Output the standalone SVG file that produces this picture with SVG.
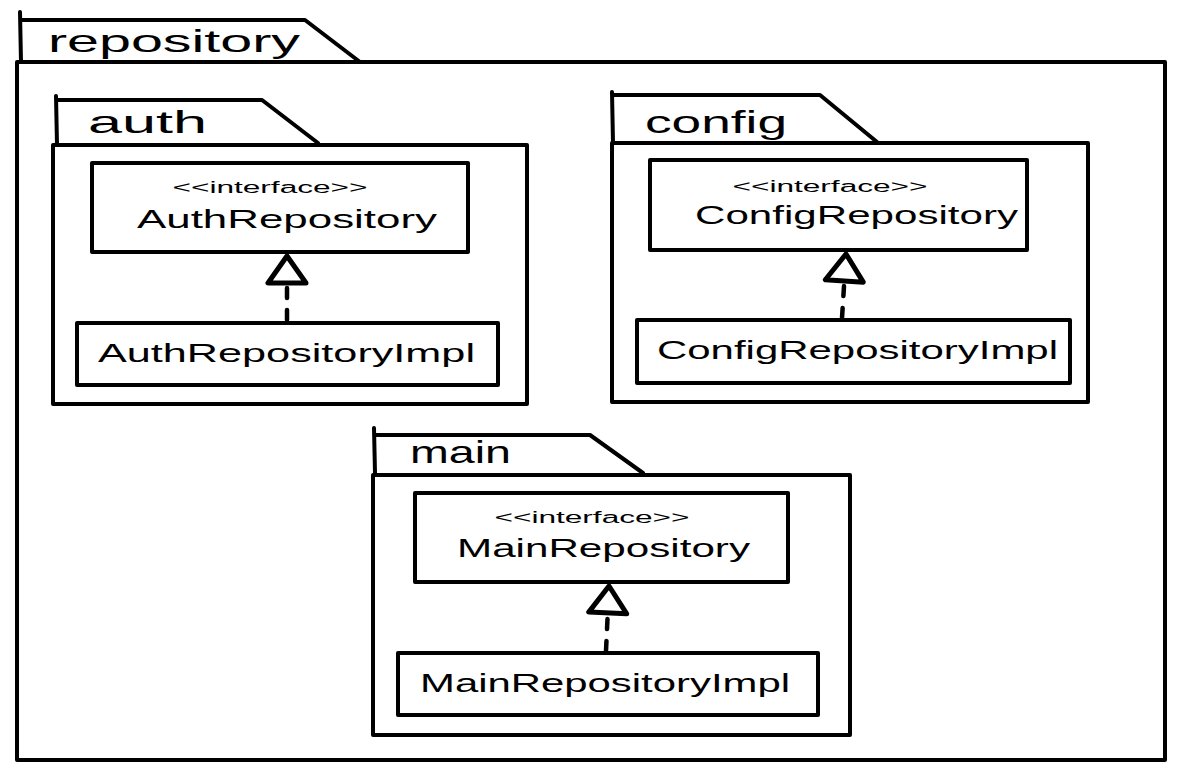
<svg xmlns="http://www.w3.org/2000/svg" width="1177" height="770" viewBox="0 0 1177 770">
<defs>
<style>
.ln{fill:none;stroke:#000;stroke-width:4;stroke-linecap:round;stroke-linejoin:round}
.box{fill:#fff;stroke:#000;stroke-width:4;stroke-linejoin:round}
.pk{font-family:"Liberation Sans",Arial,sans-serif;font-size:32px;fill:#000}
.st{font-family:"Liberation Sans",Arial,sans-serif;font-size:16px;fill:#000;text-anchor:middle}
.nm{font-family:"Liberation Sans",Arial,sans-serif;font-size:26px;fill:#000}
.dash{fill:none;stroke:#000;stroke-width:4.5;stroke-dasharray:10 12;stroke-linecap:round}
</style>
<marker id="real" viewBox="0 0 34 44" refX="31" refY="22" markerWidth="34" markerHeight="44" markerUnits="userSpaceOnUse" orient="auto">
<path d="M31 22 L4 3 L4 41 Z" fill="#fff" stroke="#000" stroke-width="5" stroke-linejoin="round"/>
</marker>
</defs>
<rect width="1177" height="770" fill="#fff"/>
<g id="pkg-repository">
<path class="ln" d="M20 12 L21 62 M22 20 L305 20 L360 62"/>
<rect class="box" x="17" y="62" width="1148" height="698" fill="none"/>
<text class="pk" x="48" y="52" textLength="252" lengthAdjust="spacingAndGlyphs">repository</text>
</g>
<g id="pkg-auth">
<path class="ln" d="M56 96 L57 145 M57 100 L262 100 L318 143"/>
<rect class="box" x="53" y="145" width="474" height="259"/>
<text class="pk" x="88" y="133" textLength="119" lengthAdjust="spacingAndGlyphs">auth</text>
</g>
<g id="pkg-config">
<path class="ln" d="M612 92 L613 143 M612 95 L820 95 L877 142"/>
<rect class="box" x="612" y="143" width="476" height="259"/>
<text class="pk" x="645" y="133" textLength="142" lengthAdjust="spacingAndGlyphs">config</text>
</g>
<g id="pkg-main">
<path class="ln" d="M374 428 L375 473 M375 435 L590 435 L643 473"/>
<rect class="box" x="373" y="475" width="477" height="260"/>
<text class="pk" x="410" y="463" textLength="101" lengthAdjust="spacingAndGlyphs">main</text>
</g>
<g id="AuthRepository">
<rect class="box" x="92" y="163" width="376" height="89"/>
<text class="st" x="270" y="193" textLength="195" lengthAdjust="spacingAndGlyphs">&lt;&lt;interface&gt;&gt;</text>
<text class="nm" x="137" y="228" textLength="300" lengthAdjust="spacingAndGlyphs">AuthRepository</text>
</g>
<g id="AuthRepositoryImpl">
<rect class="box" x="77" y="323" width="421" height="62"/>
<text class="nm" x="98" y="362" textLength="377" lengthAdjust="spacingAndGlyphs">AuthRepositoryImpl</text>
</g>
<g id="ConfigRepository">
<rect class="box" x="650" y="160" width="377" height="90"/>
<text class="st" x="830" y="192" textLength="195" lengthAdjust="spacingAndGlyphs">&lt;&lt;interface&gt;&gt;</text>
<text class="nm" x="695" y="224" textLength="323" lengthAdjust="spacingAndGlyphs">ConfigRepository</text>
</g>
<g id="ConfigRepositoryImpl">
<rect class="box" x="637" y="320" width="433" height="63"/>
<text class="nm" x="657" y="359" textLength="401" lengthAdjust="spacingAndGlyphs">ConfigRepositoryImpl</text>
</g>
<g id="MainRepository">
<rect class="box" x="415" y="493" width="373" height="89"/>
<text class="st" x="592" y="523" textLength="195" lengthAdjust="spacingAndGlyphs">&lt;&lt;interface&gt;&gt;</text>
<text class="nm" x="457" y="557" textLength="293" lengthAdjust="spacingAndGlyphs">MainRepository</text>
</g>
<g id="MainRepositoryImpl">
<rect class="box" x="398" y="653" width="420" height="62"/>
<text class="nm" x="420" y="692" textLength="370" lengthAdjust="spacingAndGlyphs">MainRepositoryImpl</text>
</g>
<g id="connectors">
<path class="dash" d="M287 320 L287 256" marker-end="url(#real)"/>
<path class="dash" d="M842 318 L846 254" marker-end="url(#real)"/>
<path class="dash" d="M606 651 L609 586" marker-end="url(#real)"/>
</g>
</svg>
